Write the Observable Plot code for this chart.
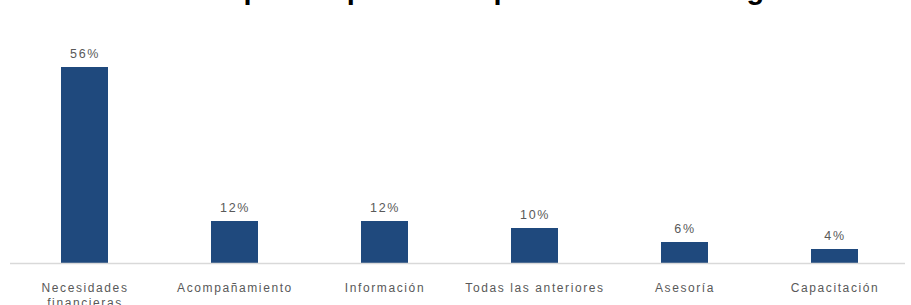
<!DOCTYPE html>
<html>
<head>
<meta charset="utf-8">
<script src="https://cdn.jsdelivr.net/npm/d3@7"></script>
<script src="https://cdn.jsdelivr.net/npm/@observablehq/plot@0.6"></script>
<style>
  html, body { margin: 0; padding: 0; background: #fff; }
  #wrap { position: relative; width: 911px; height: 305px; overflow: hidden; }
  #title { position: absolute; left: 0; width: 911px; top: -25px; text-align: center;
    font: bold 29px "Liberation Sans", Arial, sans-serif; line-height: 29px; color: #000; white-space: nowrap; }
  #chart svg text { letter-spacing: 1.6px; }
</style>
</head>
<body>
<div id="wrap">
  <div id="chart"></div>
  <div id="title">Necesidades para implementar prácticas de bioseguridad</div>
</div>
<script>
const categories = ["Necesidades financieras", "Acompañamiento", "Información", "Todas las anteriores", "Asesoría", "Capacitación"];
const values = [56, 12, 12, 10, 6, 4];
const tickLabels = ["Necesidades\nfinancieras", "Acompañamiento", "Información", "Todas las anteriores", "Asesoría", "Capacitación"];
const valueLabels = ["56%", "12%", "12%", "10%", "6%", "4%"];

const data = categories.map((c, i) => ({cat: c, value: values[i], label: valueLabels[i], tick: tickLabels[i]}));
const tickMap = new Map(data.map(d => [d.cat, d.tick]));

const chart = Plot.plot({
  width: 911,
  height: 305,
  marginLeft: 8,
  marginRight: 0,
  marginTop: 67,
  marginBottom: 42,
  style: {fontFamily: "'Liberation Sans', Arial, sans-serif", background: "transparent"},
  x: {domain: categories, paddingInner: 0.69, paddingOuter: 0.345, align: 0.5},
  y: {domain: [0, 56], axis: null},
  marks: [
    Plot.barY(data, {x: "cat", y: "value", fill: "#1f497d"}),
    Plot.ruleY([0], {stroke: "#d9d9d9", strokeWidth: 1.5, insetLeft: 2, insetRight: 6}),
    Plot.text(data, {x: "cat", y: "value", text: "label", lineAnchor: "bottom", dy: -10, fill: "#595959", fontSize: 12.5}),
    Plot.axisX({tickSize: 0, tickPadding: 17.5, fontSize: 12, fill: "#595959", lineHeight: 1.25, tickFormat: d => tickMap.get(d), label: null})
  ]
});
document.getElementById("chart").appendChild(chart);
</script>
</body>
</html>
